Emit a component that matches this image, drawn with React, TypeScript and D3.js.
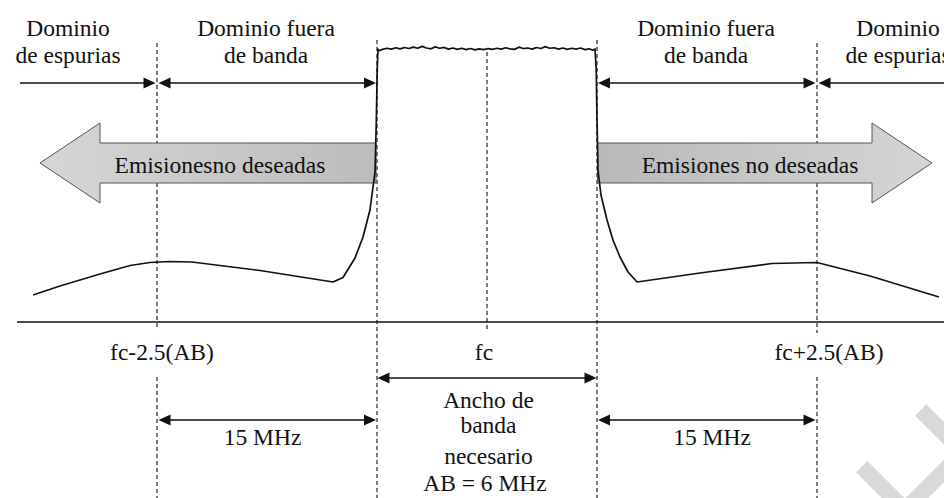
import React from 'react';
import * as d3 from 'd3';

const W = 944;
const H = 498;

// Frequency in units of AB/2 relative to fc; level in relative units (0 = axis, 100 = in-band plateau)
const boundaries: number[] = [-3, -1, 0, 1, 3];

const lowerSpectrum: [number, number][] = [
  [-4.127, 9.85], [-3.882, 13.14], [-3.518, 17.52], [-3.245, 20.62], [-3.064, 21.72],
  [-2.882, 22.08], [-2.682, 21.9], [-2.064, 18.8], [-1.4, 14.6], [-1.309, 16.24],
  [-1.2, 23.36], [-1.127, 31.02], [-1.064, 40.88], [-1.018, 54.74], [-1.006, 73.72],
  [-0.998, 91.97], [-0.991, 99.64],
];

const plateau: [number, number][] = [
  [-0.98, 99.0], [-0.95, 99.5], [-0.91, 99.9], [-0.87, 99.6], [-0.83, 100.1], [-0.79, 99.7],
  [-0.75, 100.2], [-0.71, 99.8], [-0.67, 100.3], [-0.63, 99.9], [-0.59, 100.6], [-0.55, 100.0],
  [-0.51, 99.7], [-0.47, 100.4], [-0.43, 99.9], [-0.39, 100.2], [-0.35, 99.6], [-0.31, 100.0],
  [-0.27, 99.5], [-0.23, 99.9], [-0.19, 99.4], [-0.15, 99.8], [-0.11, 99.3], [-0.07, 99.7],
  [-0.03, 99.4], [0.01, 99.8], [0.05, 99.5], [0.09, 99.9], [0.13, 99.6], [0.17, 100.1],
  [0.21, 99.7], [0.25, 99.5], [0.29, 100.3], [0.33, 99.8], [0.37, 100.0], [0.41, 99.6],
  [0.45, 100.2], [0.49, 99.8], [0.53, 100.5], [0.57, 99.9], [0.61, 100.1], [0.65, 99.6],
  [0.69, 100.0], [0.73, 99.5], [0.77, 99.9], [0.81, 99.6], [0.85, 100.0], [0.89, 99.4],
  [0.93, 99.7], [0.96, 99.2],
];

const upperSpectrum: [number, number][] = [
  [0.982, 99.64], [0.993, 91.97], [1.0, 73.72], [1.009, 55.47], [1.036, 46.35],
  [1.091, 37.23], [1.145, 29.93], [1.209, 23.72], [1.282, 18.25], [1.364, 14.6],
  [1.936, 17.88], [2.591, 21.35], [3.0, 21.72], [3.482, 16.79], [4.109, 9.12],
];

const topLabels: string[][] = [
  ['Dominio', 'de espurias'],
  ['Dominio fuera', 'de banda'],
  ['Dominio fuera', 'de banda'],
  ['Dominio', 'de espurias'],
];
const emissionLabels: string[] = ['Emisionesno deseadas', 'Emisiones no deseadas'];
const freqLabels: string[] = ['fc-2.5(AB)', 'fc', 'fc+2.5(AB)'];
const spanLabels: string[] = ['15 MHz', '15 MHz'];
const bandwidthLabel: string[] = ['Ancho de', 'banda', 'necesario', 'AB = 6 MHz'];

const FONT = '"Liberation Serif", "Times New Roman", Tinos, Times, serif';
const FS = 23.5;

export default function App() {
  const x = d3.scaleLinear().domain([-1, 1]).range([377, 597]);
  const y = d3.scaleLinear().domain([0, 100]).range([322, 48]);

  const spectrum = [...lowerSpectrum, ...plateau, ...upperSpectrum];
  const line = d3
    .line<[number, number]>()
    .x((d) => x(d[0]))
    .y((d) => y(d[1]))
    .curve(d3.curveLinear);

  const headPath = (tipX: number, yy: number, dir: number) => {
    const L = 12;
    const hw = 5.5;
    return `M${tipX},${yy}L${tipX - dir * L},${yy - hw}L${tipX - dir * L},${yy + hw}Z`;
  };

  const arrow = (x1: number, x2: number, yy: number, startHead: boolean, endHead: boolean, key: string) => (
    <g key={key}>
      <line x1={x1 + (startHead ? 4 : 0)} x2={x2 - (endHead ? 4 : 0)} y1={yy} y2={yy} stroke="#111" strokeWidth={1.3} />
      {startHead && <path d={headPath(x1, yy, -1)} fill="#111" />}
      {endHead && <path d={headPath(x2, yy, 1)} fill="#111" />}
    </g>
  );

  const [bSpurL, bBandL, bC, bBandR, bSpurR] = boundaries.map((b) => x(b));

  const dashSegs: [number, number, number][] = [
    [bSpurL, 43, 327], [bSpurL, 377, H],
    [bBandL, 40, H],
    [bC, 52, 330],
    [bBandR, 40, H],
    [bSpurR, 43, 333], [bSpurR, 377, H],
  ];

  // gray emission arrows
  const aMidY = 163;
  const bodyH = 20;
  const headH = 40;
  const leftTip = x(-4.064);
  const leftBase = x(-3.518);
  const rightTip = x(4.045);
  const rightBase = x(3.5);
  const leftArrow = `M${leftTip},${aMidY}L${leftBase},${aMidY - headH}L${leftBase},${aMidY - bodyH}L${bBandL - 1},${aMidY - bodyH}L${bBandL - 1},${aMidY + bodyH}L${leftBase},${aMidY + bodyH}L${leftBase},${aMidY + headH}Z`;
  const rightArrow = `M${rightTip},${aMidY}L${rightBase},${aMidY - headH}L${rightBase},${aMidY - bodyH}L${bBandR + 0.5},${aMidY - bodyH}L${bBandR + 0.5},${aMidY + bodyH}L${rightBase},${aMidY + bodyH}L${rightBase},${aMidY + headH}Z`;

  const topLabelX = [68, (bSpurL + bBandL) / 2 - 1, (bBandR + bSpurR) / 2 - 1, 898];
  const txt = { fontSize: FS, fill: '#111', textAnchor: 'middle' as const };

  return (
    <svg
      width={W}
      height={H}
      viewBox={`0 0 ${W} ${H}`}
      style={{ position: 'absolute', left: 0, top: 0, display: 'block', background: '#fff', fontFamily: FONT }}
    >
      <defs>
        <linearGradient id="gL" x1="0" x2="1" y1="0" y2="0">
          <stop offset="0" stopColor="#d6d6d6" />
          <stop offset="1" stopColor="#bcbcbc" />
        </linearGradient>
        <linearGradient id="gR" x1="0" x2="1" y1="0" y2="0">
          <stop offset="0" stopColor="#b9b9b9" />
          <stop offset="1" stopColor="#d5d5d5" />
        </linearGradient>
      </defs>
      <rect x={0} y={0} width={W} height={H} fill="#fff" />

      {/* watermark */}
      <g stroke="#d9d9d9" strokeWidth={16} fill="none" strokeLinecap="butt" strokeLinejoin="miter">
        <polyline points="920.7,410 963,452 909,506" />
        <line x1={861.7} y1={466.7} x2={902} y2={507} />
      </g>

      {/* dashed boundaries */}
      {dashSegs.map(([xx, y1, y2], i) => (
        <line key={`d${i}`} x1={xx} x2={xx} y1={y1} y2={y2} stroke="#222" strokeWidth={1.2} strokeDasharray="4 3" />
      ))}

      {/* axis */}
      <line x1={17} x2={W} y1={y(0)} y2={y(0)} stroke="#111" strokeWidth={1.5} />

      {/* emission arrows */}
      <path d={leftArrow} fill="url(#gL)" stroke="#555" strokeWidth={1} />
      <path d={rightArrow} fill="url(#gR)" stroke="#555" strokeWidth={1} />
      <text x={220} y={173} {...txt}>{emissionLabels[0]}</text>
      <text x={750} y={173} {...txt}>{emissionLabels[1]}</text>

      {/* spectrum */}
      <path d={line(spectrum) || ''} fill="none" stroke="#111" strokeWidth={1.7} strokeLinejoin="round" />

      {/* top domain labels */}
      {topLabels.map((lines, i) => (
        <text key={`t${i}`} x={topLabelX[i]} y={36} {...txt}>
          {lines.map((l, j) => (
            <tspan key={j} x={topLabelX[i]} dy={j === 0 ? 0 : 26.5}>{l}</tspan>
          ))}
        </text>
      ))}

      {/* top arrows */}
      {arrow(20, bSpurL - 1.5, 83, false, true, 'a1')}
      {arrow(bSpurL + 1.5, bBandL - 1, 83, true, true, 'a2')}
      {arrow(bBandR + 1, bSpurR - 1.5, 83, true, true, 'a3')}
      {arrow(bSpurR + 1.5, W + 2, 83, true, false, 'a4')}

      {/* frequency labels */}
      <text x={bSpurL + 5} y={360} {...txt}>{freqLabels[0]}</text>
      <text x={bC - 3} y={360} {...txt}>{freqLabels[1]}</text>
      <text x={bSpurR + 12} y={360} {...txt}>{freqLabels[2]}</text>

      {/* bandwidth arrow */}
      {arrow(bBandL + 0.5, bBandR - 0.5, 378, true, true, 'bw')}
      {/* 15 MHz arrows */}
      {arrow(bSpurL + 1.5, bBandL - 1, 420, true, true, 's1')}
      {arrow(bBandR + 1, bSpurR - 1.5, 420, true, true, 's2')}
      <text x={(bSpurL + bBandL) / 2 - 4.5} y={445} {...txt}>{spanLabels[0]}</text>
      <text x={(bBandR + bSpurR) / 2 + 5} y={445} {...txt}>{spanLabels[1]}</text>

      {/* necessary bandwidth label */}
      {bandwidthLabel.map((l, i) => (
        <text key={`b${i}`} x={bC + (i === 3 ? -2 : 1.5)} y={[408, 433, 464, 491][i]} {...txt}>
          {l}
        </text>
      ))}
    </svg>
  );
}
